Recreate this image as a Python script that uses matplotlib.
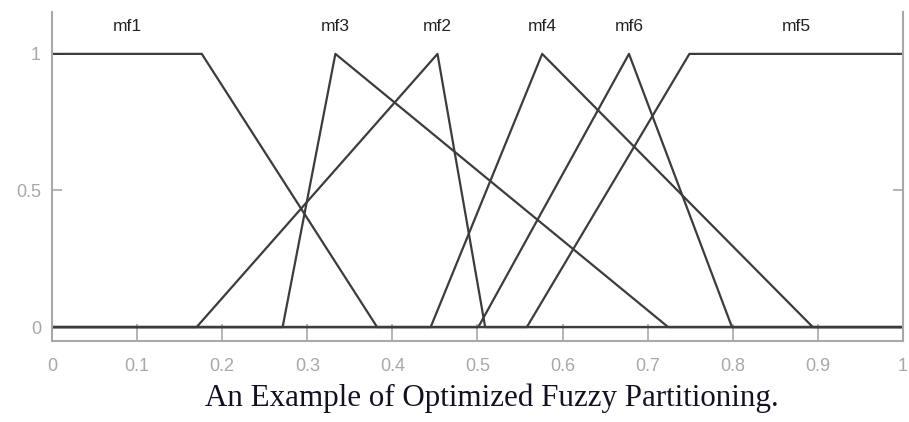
import numpy as np
import matplotlib
matplotlib.use('Agg')
import matplotlib.pyplot as plt

# Membership function parameters (MATLAB-style trapmf / trimf)
mf_names = ['mf1', 'mf3', 'mf2', 'mf4', 'mf6', 'mf5']
mf_types = ['trap', 'tri', 'tri', 'tri', 'tri', 'trap']
mf_params = [
    [-0.1, 0.0, 0.176, 0.382],
    [0.271, 0.333, 0.724],
    [0.170, 0.453, 0.509],
    [0.445, 0.576, 0.894],
    [0.501, 0.678, 0.799],
    [0.558, 0.749, 1.0, 1.1],
]
x_ticks = [0, 0.1, 0.2, 0.3, 0.4, 0.5, 0.6, 0.7, 0.8, 0.9, 1]
y_ticks = [0, 0.5, 1]


def trapmf(x, p):
    a, b, c, d = p
    up = np.where(b > a, (x - a) / max(b - a, 1e-12), 1.0)
    down = np.where(d > c, (d - x) / max(d - c, 1e-12), 1.0)
    return np.clip(np.minimum(np.minimum(up, 1.0), down), 0, 1)


def trimf(x, p):
    a, b, c = p
    return trapmf(x, [a, b, b, c])


def peak_center(t, p):
    if t == 'tri':
        return p[1]
    return (max(p[1], 0.0) + min(p[2], 1.0)) / 2


x = np.linspace(0, 1, 2001)

fig = plt.figure(figsize=(9.09, 4.22), dpi=100)
ax = fig.add_axes([0.0572, 0.192, 0.9362, 0.78])

line_color = '#3c3c3c'
grey = '#a8a8a8'

for name, t, p in zip(mf_names, mf_types, mf_params):
    y = trimf(x, p) if t == 'tri' else trapmf(x, p)
    ax.plot(x, y, color=line_color, lw=1.6)
    ax.text(peak_center(t, p), 1.1, name, ha='center', va='center',
            fontsize=12.5, color='#222222', family='Liberation Sans')

ax.set_xlim(0, 1)
ax.set_ylim(-0.051, 1.154)
ax.set_xticks(x_ticks)
ax.set_xticklabels(['0', '0.1', '0.2', '0.3', '0.4', '0.5', '0.6', '0.7',
                    '0.8', '0.9', '1'])
ax.set_yticks(y_ticks)
ax.set_yticklabels(['0', '0.5', '1'])
ax.tick_params(direction='in', length=12, width=1.2, color=grey,
               labelcolor=grey, labelsize=13, top=False, right=True)
for lab in ax.get_xticklabels() + ax.get_yticklabels():
    lab.set_family('Liberation Sans')
ax.tick_params(axis='x', pad=12)
ax.tick_params(axis='y', length=7, pad=8)
for side in ['left', 'right', 'bottom']:
    ax.spines[side].set_color(grey)
    ax.spines[side].set_linewidth(1.5)
ax.spines['top'].set_visible(False)

fig.text(0.541, 0.057, 'An Example of Optimized Fuzzy Partitioning.',
         ha='center', va='center', fontsize=22.3, color='#111122',
         family='Liberation Serif')

fig.savefig('out.png', dpi=100)
